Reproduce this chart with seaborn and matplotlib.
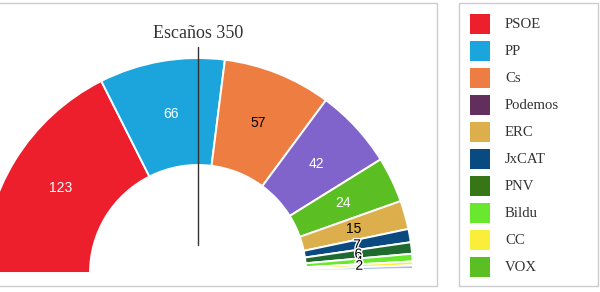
import matplotlib
matplotlib.use("Agg")
import matplotlib.pyplot as plt
import matplotlib.patheffects as pe
from matplotlib.patches import Rectangle
import numpy as np
import seaborn as sns

sns.set_style("white")
plt.rcParams['font.family'] = ['Liberation Sans', 'DejaVu Sans']

# ---- data ----
parties = ["PSOE", "PP", "Cs", "Podemos", "VOX", "ERC", "JxCAT", "PNV", "Bildu", "CC",
           "NA+", "Compromís", "PRC"]
seats = [123, 66, 57, 42, 24, 15, 7, 6, 4, 2, 2, 1, 1]
slice_colors = ["#ED1F2D", "#1BA5DC", "#EE7D42", "#8064CC", "#5BBF24", "#DDAE4C",
                "#0B4A80", "#1F6B2F", "#6AE830", "#FBEE3A", "#A9BCEE", "#7385D8", "#6677D4"]
label_colors = ["white", "white", "black", "white", "white", "black",
                "black", "black", "black", "black", None, None, None]
legend_names = ["PSOE", "PP", "Cs", "Podemos", "ERC", "JxCAT", "PNV", "Bildu", "CC", "VOX"]
legend_colors = ["#ED1F2D", "#1AA5DC", "#EE7D43", "#612E5E", "#DDAE4C",
                 "#0B4A80", "#367617", "#6AE830", "#FBEE3A", "#5BBF24"]
title = "Escaños 350"
total = sum(seats)

H = 292
fig = plt.figure(figsize=(6.0, 2.92), dpi=100)
ax = fig.add_axes([0, 0, 1, 1])

cx, cy = 198, H - 273
R, W = 215, 107
wedges, _ = ax.pie(seats + [total], colors=slice_colors + ["white"], startangle=180,
                   counterclock=False, radius=R, center=(cx, cy),
                   wedgeprops=dict(width=W, edgecolor="white", linewidth=1.4))
wedges[-1].set_visible(False)

rm = R - W / 2
for w, val, lc in zip(wedges[:-1], seats, label_colors):
    if lc is None:
        continue
    a = np.deg2rad((w.theta1 + w.theta2) / 2)
    x, y = cx + rm * np.cos(a), cy + rm * np.sin(a)
    t = ax.text(x, y, str(val), color=lc, fontsize=10, ha="center", va="center", zorder=5)
    if lc == "black" and val < 10:
        t.set_path_effects([pe.withStroke(linewidth=2, foreground="white")])

# frames
ax.add_patch(Rectangle((-10, H - 286), 447, 283, fill=False, edgecolor="#cccccc", lw=1))
ax.add_patch(Rectangle((459, H - 286), 139, 283, fill=False, edgecolor="#cccccc", lw=1))

# title and vertical line
ax.text(cx, H - 33, title, family="Liberation Serif", fontsize=13, color="#333333",
        ha="center", va="center")
ax.plot([cx, cx], [H - 47, H - 245], color="#333333", lw=1, zorder=6)

# legend
for i, (name, col) in enumerate(zip(legend_names, legend_colors)):
    top = 14 + 27 * i
    ax.add_patch(Rectangle((470, H - top - 20), 20, 20, facecolor=col, edgecolor="none"))
    ax.text(505, H - top - 10.5, name, family="Liberation Serif", fontsize=10.6,
            color="#333333", ha="left", va="center")

ax.set_xlim(0, 600)
ax.set_ylim(0, H)
ax.set_aspect("equal")
ax.axis("off")
fig.savefig("out.png", dpi=100)
